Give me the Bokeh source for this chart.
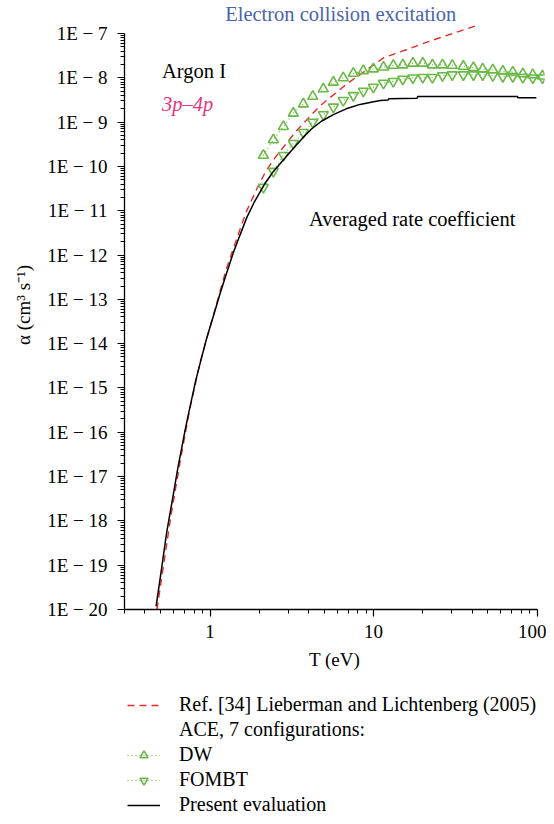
import numpy as np
from bokeh.plotting import figure
from bokeh.layouts import column
from bokeh.models import (FixedTicker, CustomJSTickFormatter, Label, Legend,
                          LegendItem, Range1d)
from bokeh.embed import file_html
from bokeh.resources import INLINE

# ---------------- data ----------------
# Present evaluation (black solid)
present_T = [0.468, 0.5, 0.544, 0.6, 0.634, 0.7, 0.737, 0.818, 0.869, 0.95,
             1.048, 1.15, 1.265, 1.388, 1.525, 1.68, 1.85, 2.02, 2.17, 2.4,
             2.74, 3.0, 3.31, 3.7, 4.19, 4.8, 5.68, 6.8, 8.27, 10.0, 11.0,
             12.3, 12.4, 18.5, 18.6, 76.0, 76.2, 99.0]
present_log10_alpha = [-19.93, -19.2, -18.25, -17.35, -16.83, -16.0, -15.6,
                       -14.83, -14.45, -13.9, -13.38, -12.88, -12.40, -11.95,
                       -11.55, -11.15, -10.83, -10.58, -10.38, -10.15, -9.90,
                       -9.73, -9.55, -9.35, -9.15, -8.98, -8.83, -8.70, -8.60,
                       -8.54, -8.51, -8.50, -8.47, -8.46, -8.42, -8.42, -8.45,
                       -8.45]

# Ref. [34] Lieberman and Lichtenberg (2005) (red dashed)
lieb_T = [0.474, 0.52, 0.576, 0.665, 0.75, 0.87, 1.05, 1.25, 1.39, 1.65, 1.93,
          2.2, 2.56, 3.39, 4.71, 6.85, 11.5, 22.2, 42.8]
lieb_log10_alpha = [-20.0, -19.0, -17.9, -16.55, -15.5, -14.42, -13.35,
                    -12.35, -11.85, -11.06, -10.51, -10.1, -9.75, -9.19,
                    -8.63, -8.14, -7.55, -7.17, -6.82]

# ACE, 7 configurations (DW and FOMBT share the same temperatures)
ace_T = [2.12, 2.44, 2.81, 3.23, 3.72, 4.25, 4.93, 5.68, 6.53, 7.52, 8.66,
         9.97, 11.5, 13.2, 15.1, 17.4, 20.0, 22.9, 26.4, 30.3, 35.4, 40.8,
         46.5, 53.6, 61.7, 71.0, 81.8, 94.1, 107.8]
dw_log10_alpha = [-9.75, -9.40, -9.10, -8.80, -8.59, -8.42, -8.25, -8.10,
                  -8.00, -7.90, -7.84, -7.80, -7.76, -7.72, -7.71, -7.67,
                  -7.67, -7.71, -7.71, -7.72, -7.74, -7.77, -7.80, -7.82,
                  -7.85, -7.87, -7.91, -7.93, -7.96]
fombt_log10_alpha = [-10.47, -10.11, -9.75, -9.48, -9.23, -9.00, -8.83,
                     -8.66, -8.51, -8.40, -8.30, -8.21, -8.12, -8.08, -8.03,
                     -8.00, -7.99, -7.99, -7.95, -7.93, -7.93, -7.93, -7.93,
                     -7.95, -7.97, -7.97, -7.99, -8.00, -8.00]

x_major = [1, 10, 100]
y_major_exponents = list(range(-20, -6))

# ---------------- styles ----------------
SERIF = "Liberation Serif"
RED = "#e62a2a"
GREEN = "#6ab946"
BLUE = "#4a63ad"
PINK = "#e8337c"

p = figure(width=546, height=680, x_axis_type="log", y_axis_type="log",
           x_range=Range1d(0.3, 111.0), y_range=Range1d(1e-20, 10 ** -6.255),
           output_backend="svg", toolbar_location=None,
           min_border_left=124, min_border_right=2, min_border_top=0,
           min_border_bottom=71)
p.outline_line_color = None
p.grid.visible = False
p.background_fill_color = "white"
p.border_fill_color = "white"

# ticks
y_ticks = [10.0 ** e for e in y_major_exponents]
y_minor = [k * 10.0 ** e for e in y_major_exponents[:-1] for k in range(2, 10)]
x_minor = [k * d for d in (0.1, 1, 10) for k in range(1, 10) if 0.3 <= k * d <= 100]
p.yaxis.ticker = FixedTicker(ticks=y_ticks, minor_ticks=y_minor)
p.xaxis.ticker = FixedTicker(ticks=x_major, minor_ticks=x_minor)
p.yaxis.formatter = CustomJSTickFormatter(
    code="return '1E \u2212 ' + Math.round(-Math.log10(tick));")
p.xaxis.formatter = CustomJSTickFormatter(
    code="return tick >= 1 ? String(Math.round(tick)) : '';")
p.yaxis.bounds = (1e-20, 1e-7)
p.xaxis.bounds = (0.3, 100)

for ax in (p.xaxis[0], p.yaxis[0]):
    ax.axis_line_color = "black"
    ax.axis_line_width = 1.3
    ax.major_tick_line_color = "black"
    ax.minor_tick_line_color = "black"
    ax.major_tick_line_width = 1.2
    ax.minor_tick_line_width = 1
    ax.major_tick_in = 0
    ax.minor_tick_in = 0
    ax.major_tick_out = 7
    ax.minor_tick_out = 4
    ax.major_label_text_font = SERIF
    ax.major_label_text_font_size = "19px"
    ax.major_label_text_color = "black"
    ax.axis_label_text_font = SERIF
    ax.axis_label_text_font_size = "19px"
    ax.axis_label_text_font_style = "normal"
    ax.axis_label_text_color = "black"

p.xaxis.major_label_standoff = 8
p.yaxis.major_label_standoff = 10
p.xaxis.axis_label = "T (eV)"
p.yaxis.axis_label = "\u03b1 (cm\u00b3 s\u207b\u00b9)"
p.xaxis.axis_label_standoff = 8
p.yaxis.axis_label_standoff = 10

# ---------------- series ----------------
LIEB = dict(line_color=RED, line_width=1.4, line_dash="7 5")
DOT = dict(line_color=GREEN, line_width=1.2, line_dash="1 3")
MARK = dict(size=10, fill_color=None, line_color=GREEN, line_width=1.6)
PRES = dict(line_color="black", line_width=1.5)

p.line(lieb_T, 10.0 ** np.array(lieb_log10_alpha), **LIEB)
p.line(ace_T, 10.0 ** np.array(dw_log10_alpha), **DOT)
p.scatter(ace_T, 10.0 ** np.array(dw_log10_alpha), marker="triangle", **MARK)
p.line(ace_T, 10.0 ** np.array(fombt_log10_alpha), **DOT)
p.scatter(ace_T, 10.0 ** np.array(fombt_log10_alpha),
          marker="inverted_triangle", **MARK)
p.line(present_T, 10.0 ** np.array(present_log10_alpha), **PRES)

# ---------------- texts ----------------
p.add_layout(Label(x=6.3, y=10 ** -6.56, text="Electron collision excitation",
                   text_font=SERIF, text_font_size="20.5px", text_color=BLUE,
                   text_align="center", text_baseline="middle"))
p.add_layout(Label(x=0.509, y=10 ** -7.835, text="Argon I",
                   text_font=SERIF, text_font_size="20.5px", text_color="black",
                   text_align="left", text_baseline="middle"))
p.add_layout(Label(x=0.509, y=10 ** -8.58, text="3p\u20134p",
                   text_font=SERIF, text_font_size="20.5px", text_color=PINK,
                   text_font_style="italic",
                   text_align="left", text_baseline="middle"))
p.add_layout(Label(x=4.03, y=10 ** -11.18, text="Averaged rate coefficient",
                   text_font=SERIF, text_font_size="20.5px", text_color="black",
                   text_align="left", text_baseline="middle"))

# ---------------- legend (own strip below the plot) ----------------
lg = figure(width=546, height=136, x_range=Range1d(0, 1), y_range=Range1d(0, 1),
            output_backend="svg", toolbar_location=None,
            x_axis_location=None, y_axis_location=None, min_border=0)
lg.outline_line_color = None
lg.grid.visible = False
lg.background_fill_color = "white"
lg.border_fill_color = "white"

off = [5], [5]  # outside the strip's ranges: only the legend glyphs show
g_lieb = lg.line(*off, **LIEB)
g_blank = lg.line(*off, line_alpha=0)
g_dw_l = lg.line(*off, **DOT)
g_dw_m = lg.scatter(*off, marker="triangle", **MARK)
g_fo_l = lg.line(*off, **DOT)
g_fo_m = lg.scatter(*off, marker="inverted_triangle", **MARK)
g_pres = lg.line(*off, **PRES)

legend = Legend(items=[
    LegendItem(label="Ref. [34] Lieberman and Lichtenberg (2005)", renderers=[g_lieb]),
    LegendItem(label="ACE, 7 configurations:", renderers=[g_blank]),
    LegendItem(label="DW", renderers=[g_dw_l, g_dw_m]),
    LegendItem(label="FOMBT", renderers=[g_fo_l, g_fo_m]),
    LegendItem(label="Present evaluation", renderers=[g_pres]),
], location=(3, 0), orientation="vertical",
    glyph_width=33, glyph_height=20, label_height=20, label_standoff=19,
    spacing=2, padding=0, margin=0, border_line_color=None,
    background_fill_alpha=0, label_text_font=SERIF,
    label_text_font_size="20px", label_text_color="black")
lg.add_layout(legend)

open("out.html", "w").write(file_html(column(p, lg, spacing=0), INLINE))
